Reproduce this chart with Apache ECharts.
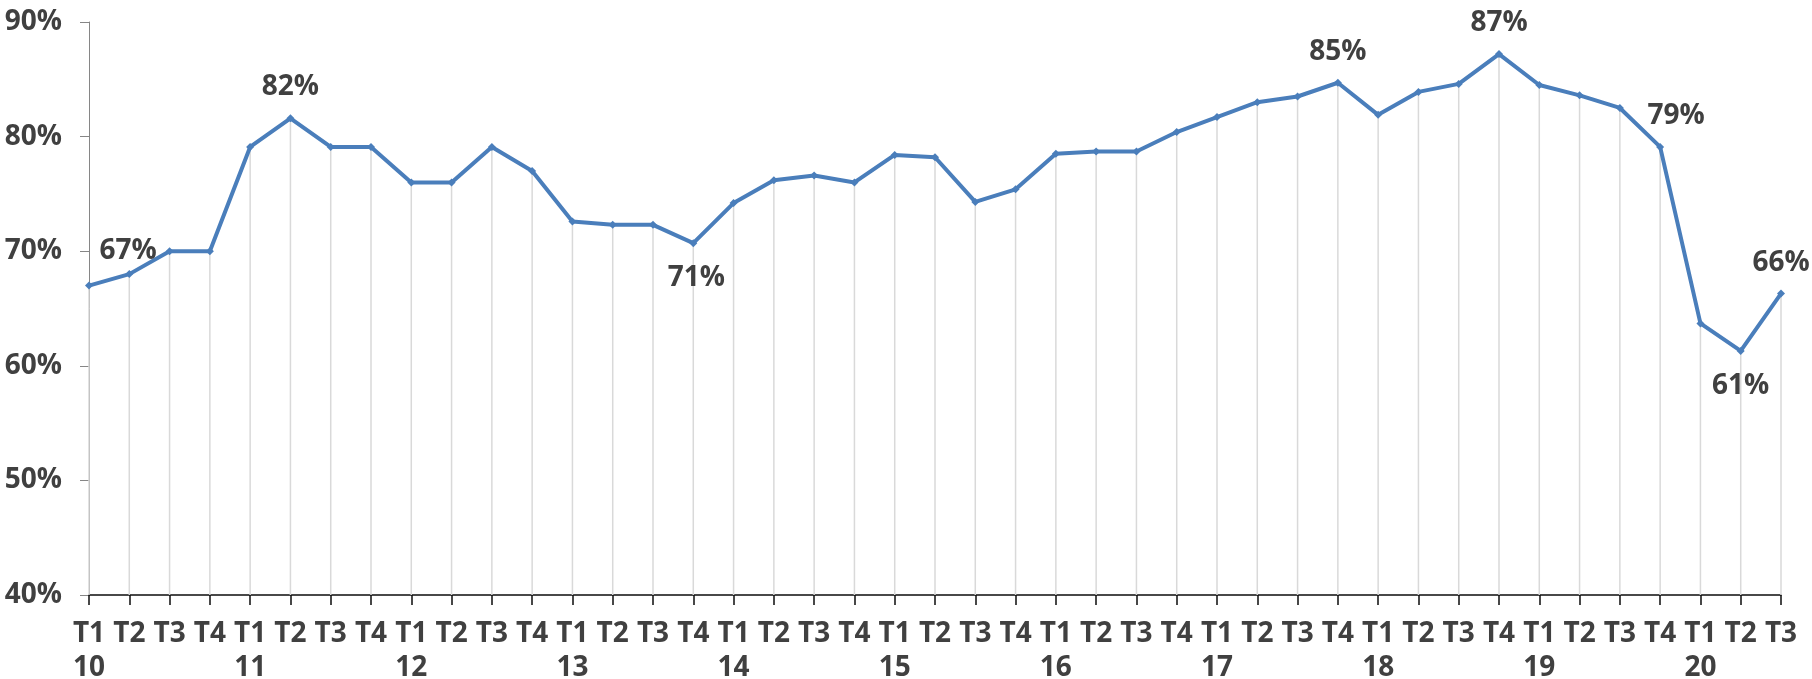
<!DOCTYPE html>
<html>
<head>
<meta charset="utf-8">
<script src="https://cdn.jsdelivr.net/npm/echarts@6/dist/echarts.min.js"></script>
<style>
  html, body { margin: 0; padding: 0; background: #fff; }
  #chart { width: 1812px; height: 679px; }
</style>
</head>
<body>
<div id="chart"></div>
<script type="application/javascript">
// quarters per year, year shown under T1
const years = ['10', '11', '12', '13', '14', '15', '16', '17', '18', '19', '20'];
const quarters = ['T1', 'T2', 'T3', 'T4'];
const lastYearQuarters = 3; // 20 stops at T3

// values in %
const rates = [
  67.0, 68.0, 70.0, 70.0,
  79.1, 81.6, 79.1, 79.1,
  76.0, 76.0, 79.1, 77.0,
  72.6, 72.3, 72.3, 70.7,
  74.2, 76.2, 76.6, 76.0,
  78.4, 78.2, 74.3, 75.4,
  78.5, 78.7, 78.7, 80.4,
  81.7, 83.0, 83.5, 84.7,
  81.9, 83.9, 84.6, 87.2,
  84.5, 83.6, 82.5, 79.1,
  63.7, 61.3, 66.3
];

const yTicks = [40, 50, 60, 70, 80, 90];

// which points get a value label
const labelled = {
  0: { position: 'top', offset: [39, -4] },
  5: { position: 'top' },
  15: { position: 'bottom', offset: [3, 0] },
  31: { position: 'top' },
  35: { position: 'top' },
  39: { position: 'top', offset: [16, 0] },
  41: { position: 'bottom' },
  42: { position: 'top' }
};

const categories = [];
years.forEach((y, i) => {
  const n = i === years.length - 1 ? lastYearQuarters : quarters.length;
  for (let q = 0; q < n; q++) {
    categories.push(q === 0 ? quarters[q] + '\n' + y : quarters[q]);
  }
});

const font = "'Open Sans', sans-serif";
const textColor = '#404040';
const lineColor = '#4a7ebb';

const lineData = rates.map((v, i) => {
  const spot = labelled[i];
  if (!spot) return v;
  return {
    value: v,
    label: {
      show: true,
      position: spot.position,
      distance: spot.position === 'top' ? 13 : 17,
      offset: spot.offset || [0, 0],
      formatter: (p) => Math.round(p.value) + '%',
      color: textColor,
      fontFamily: font,
      fontWeight: 'bold',
      fontSize: 28
    }
  };
});

const chart = echarts.init(document.getElementById('chart'));
chart.setOption({
  animation: false,
  grid: { left: 89, right: 31, top: 22, bottom: 84, containLabel: false, outerBoundsMode: 'none' },
  xAxis: {
    type: 'category',
    data: categories,
    boundaryGap: false,
    axisLine: { lineStyle: { color: '#0d0d0d', width: 1.5 } },
    axisTick: { show: true, alignWithLabel: true, interval: 0, length: 10, lineStyle: { color: '#0d0d0d', width: 1.5 } },
    axisLabel: {
      interval: 0,
      margin: 22,
      color: textColor,
      fontFamily: font,
      fontWeight: 'bold',
      fontSize: 28,
      lineHeight: 34
    },
    splitLine: { show: false }
  },
  yAxis: {
    type: 'value',
    min: yTicks[0],
    max: yTicks[yTicks.length - 1],
    interval: 10,
    axisLine: { show: true, lineStyle: { color: '#868686', width: 1 } },
    axisTick: { show: true, length: 9, lineStyle: { color: '#868686' } },
    axisLabel: {
      margin: 27,
      formatter: '{value}%',
      color: textColor,
      fontFamily: font,
      fontWeight: 'bold',
      fontSize: 28
    },
    splitLine: { show: false }
  },
  series: [
    {
      // drop lines from each point to the axis
      type: 'bar',
      data: rates,
      barWidth: 1.5,
      silent: true,
      itemStyle: { color: '#d9d9d9' },
      z: 1
    },
    {
      type: 'line',
      data: lineData,
      symbol: 'diamond',
      symbolSize: 8,
      lineStyle: { color: lineColor, width: 4 },
      itemStyle: { color: lineColor },
      z: 3
    }
  ]
});
</script>
</body>
</html>
